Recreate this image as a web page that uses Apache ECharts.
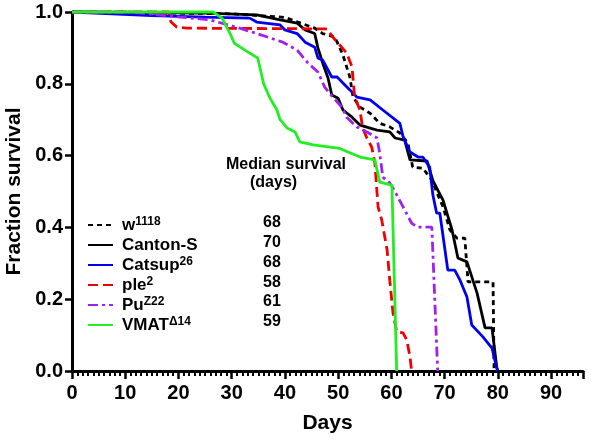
<!DOCTYPE html>
<html>
<head>
<meta charset="utf-8">
<script src="https://cdn.jsdelivr.net/npm/echarts@6/dist/echarts.min.js"></script>
<style>
  html, body { margin: 0; padding: 0; background: #fff; }
  #chart { width: 601px; height: 447px; }
</style>
</head>
<body>
<div id="chart"></div>
<script>
// strains, in legend order
const strains = ['w1118', 'Canton-S', 'Catsup26', 'ple2', 'PuZ22', 'VMATΔ14']
const strainBase = ['w', 'Canton-S', 'Catsup', 'ple', 'Pu', 'VMAT']
const strainSup = ['1118', '', '26', '2', 'Z22', 'Δ14']
const medians = [68, 70, 68, 58, 61, 59]

// survival curves (days, fraction surviving)
const w1118Days = [0, 30, 40, 45.6, 47.1, 49.4, 50.9, 52.2, 52.8, 54.1, 56, 57.8, 59.7, 61.6, 63.1, 64, 65.9, 67.6, 68.5, 69.7, 71, 72.3, 73.8, 74.4, 79.1, 79.3]
const w1118Surv = [1, 0.995, 0.985, 0.955, 0.94, 0.93, 0.88, 0.819, 0.763, 0.735, 0.718, 0.69, 0.68, 0.663, 0.635, 0.568, 0.565, 0.532, 0.499, 0.457, 0.393, 0.37, 0.37, 0.248, 0.248, 0]

const cantonDays = [0, 25, 34.7, 39.1, 42.3, 43.8, 45.6, 46.2, 47.1, 48.1, 48.8, 50, 50.9, 52.6, 54.1, 57.3, 59.7, 60.7, 62.5, 63.5, 66.7, 67.8, 69.7, 71.4, 72.5, 74.2, 76.1, 77.6, 78.9, 79.8, 80]
const cantonSurv = [1, 0.997, 0.992, 0.978, 0.969, 0.95, 0.94, 0.9, 0.858, 0.816, 0.769, 0.76, 0.727, 0.707, 0.685, 0.671, 0.666, 0.649, 0.643, 0.588, 0.585, 0.53, 0.476, 0.393, 0.315, 0.304, 0.217, 0.12, 0.12, 0.01, 0]

const catsupDays = [0, 15, 25, 33.4, 34.7, 39.1, 40, 42.3, 43.8, 45.6, 46.2, 47.1, 48.8, 49.8, 52.2, 53.5, 56, 58.4, 61.6, 62.2, 63.5, 65, 65.9, 67.2, 67.8, 68.5, 69.1, 70.6, 71.9, 72.9, 74.2, 75.1, 77.2, 78.9, 79.8, 80]
const catsupSurv = [1, 0.99, 0.986, 0.983, 0.972, 0.964, 0.95, 0.94, 0.916, 0.902, 0.872, 0.866, 0.819, 0.819, 0.783, 0.763, 0.755, 0.727, 0.69, 0.652, 0.61, 0.596, 0.596, 0.568, 0.49, 0.44, 0.44, 0.281, 0.281, 0.253, 0.206, 0.128, 0.095, 0.064, 0.008, 0]

const pleDays = [0, 18.2, 18.6, 19.7, 21.6, 47.9, 49, 51.6, 52.6, 53.1, 54.1, 54.6, 55.4, 56.3, 56.9, 57.5, 58.2, 59.2, 59.7, 60.3, 61, 62.2, 62.9, 63.5, 63.8]
const pleSurv = [1, 1, 0.972, 0.958, 0.955, 0.953, 0.93, 0.886, 0.847, 0.763, 0.727, 0.677, 0.649, 0.624, 0.58, 0.457, 0.42, 0.337, 0.253, 0.162, 0.109, 0.106, 0.086, 0.039, 0]

const puDays = [0, 10.9, 17.8, 20.3, 25.9, 31.5, 34.7, 39.6, 42.3, 44.3, 46.2, 47.5, 49, 50.7, 51.6, 53.5, 55.4, 57.3, 57.8, 58.4, 59.7, 60.7, 61, 62.2, 63.8, 64.8, 67.6, 68.7]
const puSurv = [1, 1, 0.99, 0.986, 0.978, 0.955, 0.94, 0.916, 0.894, 0.858, 0.833, 0.79, 0.763, 0.735, 0.707, 0.68, 0.666, 0.649, 0.607, 0.54, 0.524, 0.499, 0.496, 0.457, 0.412, 0.401, 0.401, 0]

const vmatDays = [0, 26.5, 28.2, 29.7, 30.5, 33, 34.9, 36, 37.2, 38.5, 39.1, 40.4, 41.9, 42.8, 45.3, 50.3, 54.1, 56.9, 57.8, 60.1, 61]
const vmatSurv = [1, 1, 0.983, 0.94, 0.913, 0.889, 0.872, 0.8, 0.76, 0.727, 0.7, 0.677, 0.666, 0.638, 0.63, 0.62, 0.596, 0.588, 0.526, 0.518, 0]

const curveDays = [w1118Days, cantonDays, catsupDays, pleDays, puDays, vmatDays]
const curveSurv = [w1118Surv, cantonSurv, catsupSurv, pleSurv, puSurv, vmatSurv]
const colors = ['#000000', '#000000', '#0000ee', '#f00000', '#a020f0', '#22ee22']
const dashes = [[5, 4], 'solid', 'solid', [10, 5], [10, 4, 3, 4], 'solid']

const chart = echarts.init(document.getElementById('chart'))

const series = strains.map((name, i) => ({
  name: name,
  type: 'line',
  symbol: 'none',
  clip: false,
  data: curveDays[i].map((d, k) => [d, curveSurv[i][k]]),
  lineStyle: { color: colors[i], width: 2.8, type: dashes[i] },
  itemStyle: { color: colors[i] }
}))

const medianTexts = [
  { type: 'text', left: 226, top: 157, style: { text: 'Median survival', font: 'bold 16px "Liberation Sans", Arial', fill: '#000' } },
  { type: 'text', left: 250, top: 175, style: { text: '(days)', font: 'bold 16px "Liberation Sans", Arial', fill: '#000' } }
].concat(medians.map((m, i) => ({
  type: 'text',
  left: 263,
  top: 215 + i * 19.7,
  style: { text: String(m), font: 'bold 16px "Liberation Sans", Arial', fill: '#000' }
})))

chart.setOption({
  animation: false,
  textStyle: { fontFamily: '"Liberation Sans", Arial, sans-serif' },
  grid: { left: 72, right: 18, top: 12, bottom: 76, outerBoundsMode: 'none' },
  legend: {
    orient: 'vertical',
    left: 82,
    top: 211,
    itemWidth: 25,
    itemHeight: 12,
    itemGap: 2,
    data: strains,
    itemStyle: { opacity: 0 },
    formatter: name => {
      const i = strains.indexOf(name)
      return strainSup[i] ? strainBase[i] + '{sup|' + strainSup[i] + '}' : strainBase[i]
    },
    textStyle: {
      fontSize: 17,
      fontWeight: 'bold',
      color: '#000',
      height: 18,
      lineHeight: 18,
      padding: [0, 0, 0, 4],
      rich: {
        sup: { fontSize: 12, fontWeight: 'bold', color: '#000', lineHeight: 18, verticalAlign: 'top', padding: [0, 0, 6, 0] }
      }
    }
  },
  xAxis: {
    type: 'value',
    min: 0,
    max: 96,
    interval: 10,
    name: 'Days',
    nameLocation: 'middle',
    nameGap: 42,
    nameTextStyle: { fontSize: 21, fontWeight: 'bold', color: '#000' },
    axisLine: { show: true, lineStyle: { color: '#000', width: 3 } },
    axisTick: { show: true, length: 8, lineStyle: { color: '#000', width: 2.5 } },
    minorTick: { show: true, splitNumber: 10, length: 5, lineStyle: { color: '#000', width: 2 } },
    axisLabel: { showMaxLabel: false, fontSize: 20, fontWeight: 'bold', color: '#000', margin: 12 },
    splitLine: { show: false }
  },
  yAxis: {
    type: 'value',
    min: 0,
    max: 1,
    interval: 0.2,
    name: 'Fraction survival',
    nameLocation: 'middle',
    nameGap: 47,
    nameTextStyle: { fontSize: 21, fontWeight: 'bold', color: '#000' },
    axisLine: { show: true, lineStyle: { color: '#000', width: 3 } },
    axisTick: { show: true, length: 7, lineStyle: { color: '#000', width: 2.5 } },
    axisLabel: { fontSize: 20, fontWeight: 'bold', color: '#000', margin: 9, formatter: v => v.toFixed(1) },
    splitLine: { show: false }
  },
  series: series,
  graphic: medianTexts
})
</script>
</body>
</html>
